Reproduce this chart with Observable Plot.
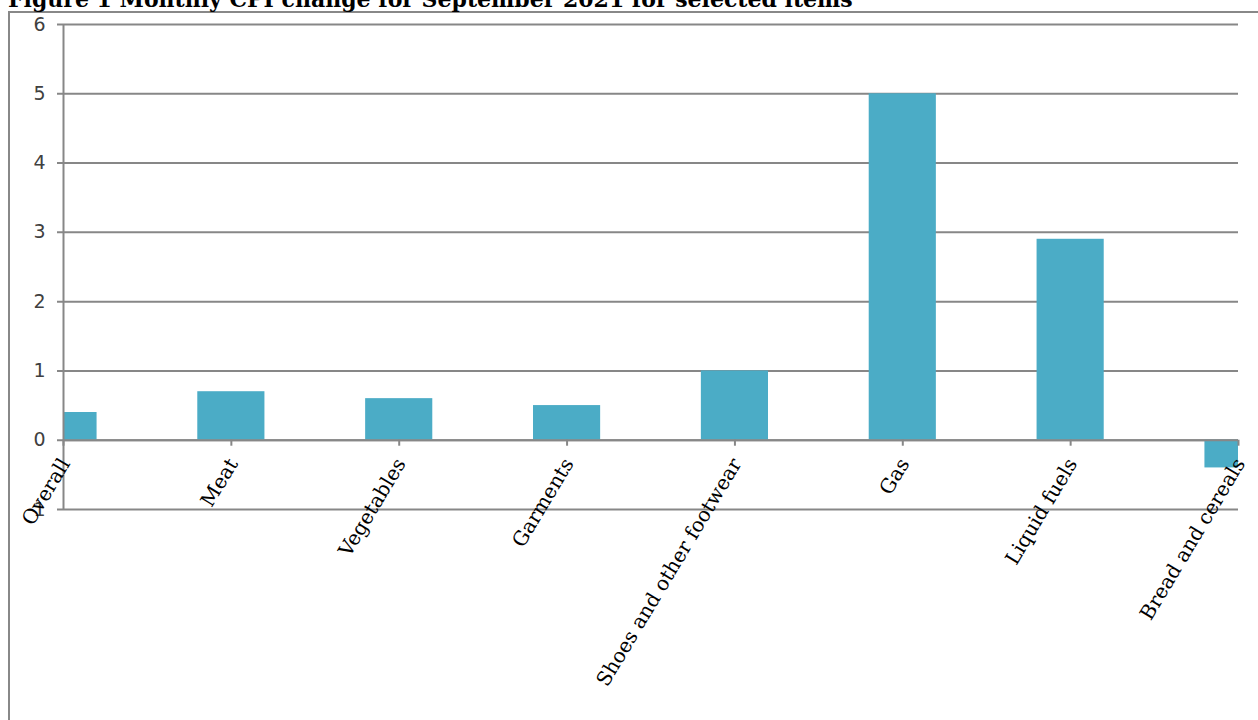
<!DOCTYPE html>
<html><head><meta charset="utf-8">
<script src="https://cdn.jsdelivr.net/npm/d3@7"></script>
<script src="https://cdn.jsdelivr.net/npm/@observablehq/plot@0.6"></script>
<style>
html,body{margin:0;padding:0;background:#fff;overflow:hidden;width:1258px;height:720px;position:relative;}
#box{position:absolute;left:8px;top:11px;width:1300px;height:800px;border-left:2px solid #888;border-top:2px solid #888;}
#title{position:absolute;left:8px;top:-12px;font-family:"DejaVu Serif";font-weight:bold;font-size:22px;line-height:22px;white-space:nowrap;z-index:2;color:#000;}
#chart{position:absolute;left:0;top:0;}
</style></head><body>
<div id="box"></div>
<div id="title">Figure 1 Monthly CPI change for September 2021 for selected items</div>
<div id="chart"></div>
<script>
const categories = ["Overall","Meat","Vegetables","Garments","Shoes and other footwear","Gas","Liquid fuels","Bread and cereals"];
const values = [0.4, 0.7, 0.6, 0.5, 1.0, 5.0, 2.9, -0.4];
const yTicks = [-1, 0, 1, 2, 3, 4, 5, 6];

const data = categories.map((c, i) => ({category: c, value: values[i]}));
const W = 1258, H = 720, mL = 63, mR = 20, mT = 24, mB = 211;
const step = (W - mR - mL) / (categories.length - 1);
const gray = "#878787";

const plot = Plot.plot({
  width: W, height: H,
  marginLeft: mL, marginRight: mR, marginTop: mT, marginBottom: mB,
  style: {background: "transparent", overflow: "visible"},
  x: {type: "band", domain: categories, range: [mL - step / 2, W - mR + step / 2], paddingInner: 0.6, paddingOuter: 0.3, round: false, axis: null, label: null},
  y: {domain: [-1, 6], axis: null, label: null},
  marks: [
    Plot.ruleY(yTicks, {stroke: gray, strokeWidth: 2, insetLeft: -6}),
    Plot.barY(data, {x: "category", y: "value", fill: "#4BACC6", clip: true}),
    Plot.ruleY([0], {stroke: gray, strokeWidth: 2}),
    Plot.ruleX([categories[0]], {x: d => d, y1: -1, y2: 6, stroke: gray, strokeWidth: 2}),
    Plot.ruleX(categories, {x: d => d, y1: 0, y2: 0, insetBottom: -6, stroke: gray, strokeWidth: 2}),
    Plot.axisY({ticks: yTicks, tickSize: 0, tickPadding: 18, fontSize: 19, fill: "#404040", fontFamily: "DejaVu Sans", tickFormat: d => String(d), label: null}),
    Plot.text(categories, {x: d => d, y: () => 0, text: d => d, rotate: -59, textAnchor: "end", lineAnchor: "top", dx: -5, dy: 16, fontSize: 20, fontFamily: "DejaVu Serif", fill: "#000"})
  ]
});
document.getElementById("chart").appendChild(plot);
</script>
</body></html>
